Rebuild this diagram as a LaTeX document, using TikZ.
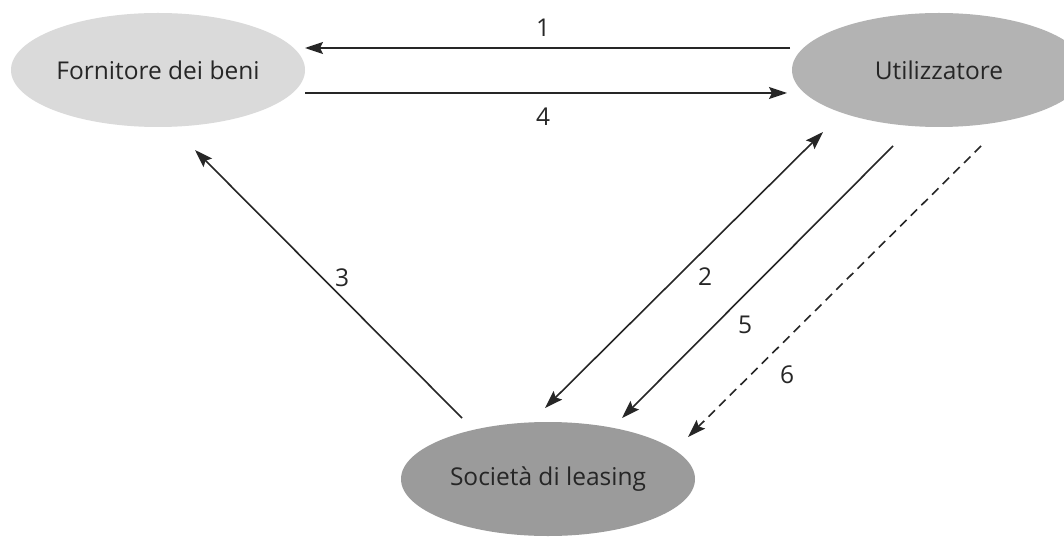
\documentclass[tikz,border=0pt]{standalone}
\usepackage{fontspec}
\setmainfont{Open Sans}
\usetikzlibrary{shapes.geometric,arrows.meta}
\definecolor{lightnode}{HTML}{DADADA}
\definecolor{midnode}{HTML}{B3B3B3}
\definecolor{darknode}{HTML}{9B9B9B}
\definecolor{inkgray}{HTML}{262626}
\tikzset{
  party/.style={ellipse, inner sep=0pt, minimum width=294pt, minimum height=114pt,
    font=\fontsize{24.5pt}{28pt}\selectfont, text=inkgray},
  tip/.style={Stealth[length=18pt,width=12pt,inset=3pt]},
  flow/.style={line width=1.6pt, draw=inkgray, -{Stealth[length=18pt,width=12pt,inset=3pt]}},
  bothflow/.style={line width=1.6pt, draw=inkgray,
    {Stealth[length=18pt,width=12pt,inset=3pt]}-{Stealth[length=18pt,width=12pt,inset=3pt]}},
  steplabel/.style={font=\fontsize{24.5pt}{28pt}\selectfont, text=inkgray, inner sep=1pt}
}
\begin{document}
\begin{tikzpicture}[x=1pt,y=-1pt]
  \clip (0,0) rectangle (1064,537);
  \useasboundingbox (0,0) rectangle (1064,537);
  \fill[white] (0,0) rectangle (1064,537);

  % the three parties of the leasing operation
  \node[party, fill=lightnode] (forn) at (158,70) {Fornitore dei beni};
  \node[party, fill=midnode]   (util) at (939,70) {Utilizzatore};
  \node[party, fill=darknode]  (soc)  at (548,479) {Società di leasing};

  % end points of the flows, placed in the gaps around the ellipses
  \coordinate (f1s) at (790,48);  \coordinate (f1e) at (305,48);
  \coordinate (f4s) at (305,93);  \coordinate (f4e) at (787,93);
  \coordinate (f3s) at (462,418); \coordinate (f3e) at (195,150);
  \coordinate (f2a) at (545,408); \coordinate (f2b) at (823,132);
  \coordinate (f5s) at (893,146); \coordinate (f5e) at (622,418);
  \coordinate (f6s) at (981,146); \coordinate (f6e) at (688,437);

  \draw[flow] (f1s) -- (f1e);
  \draw[flow] (f4s) -- (f4e);
  \draw[flow] (f3s) -- (f3e);
  \draw[bothflow] (f2a) -- (f2b);
  \draw[flow] (f5s) -- (f5e);
  \draw[flow, dash pattern=on 9pt off 6pt] (f6s) -- (f6e);

  % step numbers
  \node[steplabel] (n1) at (543,28)  {1};
  \node[steplabel] (n4) at (543,117) {4};
  \node[steplabel] (n3) at (342,278) {3};
  \node[steplabel] (n2) at (705,277) {2};
  \node[steplabel] (n5) at (745,325) {5};
  \node[steplabel] (n6) at (787,375) {6};
\end{tikzpicture}
\end{document}
